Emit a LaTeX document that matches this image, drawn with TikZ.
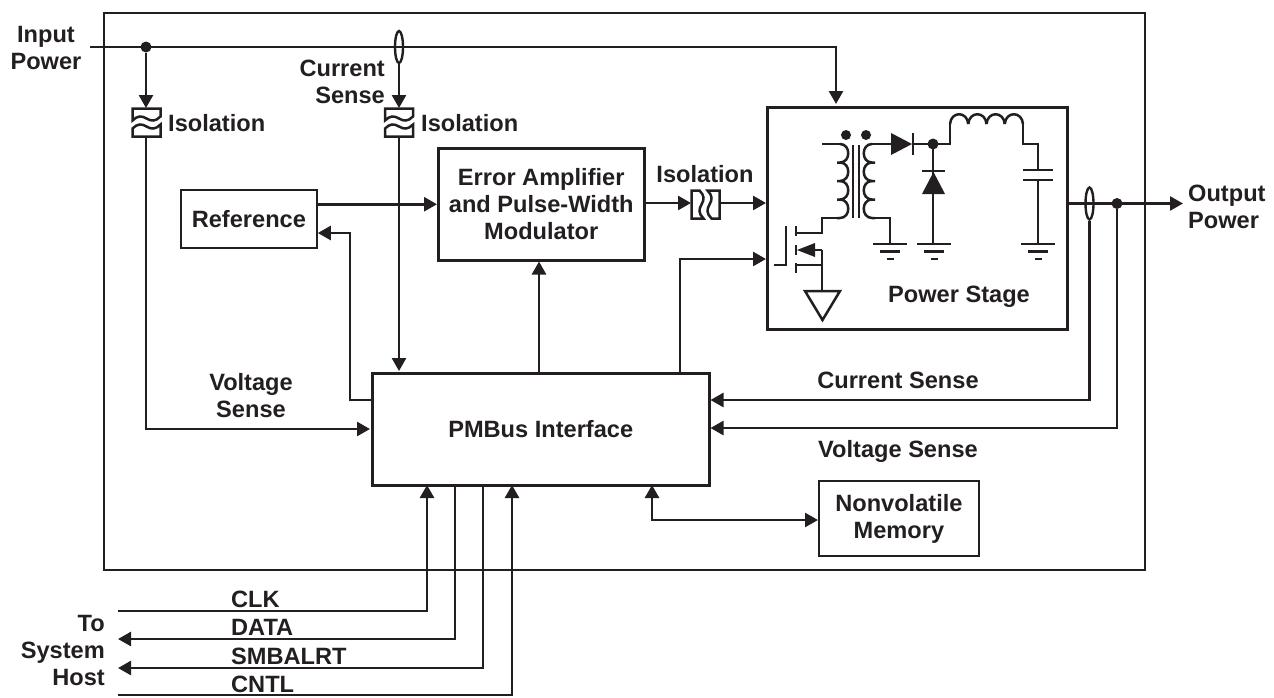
\documentclass[tikz,border=0pt]{standalone}
\usepackage{fontspec}
\setmainfont{Liberation Sans}
\usetikzlibrary{arrows.meta,calc,shapes.geometric}
\definecolor{ink}{HTML}{231F20}
\tikzset{
  wire/.style={draw=ink,line width=2.6pt,line join=miter},
  arr/.style={wire,-{Triangle[length=13pt,width=14pt]}},
  darr/.style={wire,{Triangle[length=13pt,width=14pt]}-{Triangle[length=13pt,width=14pt]}},
  blk/.style={draw=ink,line width=2.5pt,anchor=north west,inner sep=0pt,align=center,text=ink,font=\fontsize{23.6}{27}\bfseries\selectfont},
  lab/.style={text=ink,inner sep=0pt,align=center,font=\fontsize{23.6}{27}\bfseries\selectfont},
  dot/.style={circle,fill=ink,inner sep=0pt,minimum size=11pt},
  thin wire/.style={draw=ink,line width=2.5pt},
  oval/.style={ellipse,draw=ink,line width=2.4pt,inner sep=0pt,minimum width=8pt,minimum height=32pt},
  isosym/.pic={
    \draw[thin wire] (-14,-2) -- (-14,-14) -- (14,-14) -- (14,-6) .. controls (9,-1) and (5,-1) .. (0,-4) .. controls (-5,-7) and (-9,-7) .. cycle;
    \draw[thin wire] (-14,6) .. controls (-9,1) and (-5,1) .. (0,4) .. controls (5,7) and (9,7) .. (14,2) -- (14,14) -- (-14,14) -- cycle;
  },
}
\newcommand{\coilR}[3]{% x, y0, pitch: bumps bulge right
  \foreach \k in {0,1,2,3}{
    \draw[thin wire] ($(#1,#2)+(0,\k*#3)$) .. controls +(11,0) and +(11,0) .. +(0,#3) -- +(-3,#3);
  }}
\newcommand{\coilL}[3]{% x, y0, pitch: bumps bulge left
  \foreach \k in {0,1,2,3}{
    \draw[thin wire] ($(#1,#2)+(0,\k*#3)$) .. controls +(-11,0) and +(-11,0) .. +(0,#3) -- +(3,#3);
  }}
\newcommand{\gnd}[2]{%
  \draw[thin wire] (#1-17,#2) -- (#1+17,#2);
  \draw[thin wire] (#1-10,#2+7.5) -- (#1+10,#2+7.5);
  \draw[thin wire] (#1-3.5,#2+15) -- (#1+3.5,#2+15);}
\begin{document}
\begin{tikzpicture}[x=1pt,y=-1pt]
\useasboundingbox (0,0) rectangle (1274,697);
% blocks
\draw[draw=ink,line width=2.6pt] (104,13) rectangle (1145,570);
\node[blk,line width=1.8pt,minimum width=136pt,minimum height=58pt] (ref) at (180,189) {Reference};
\node[blk,minimum width=206pt,minimum height=112pt] (ea) at (437,147) {Error Amplifier\\and Pulse-Width\\Modulator};
\node[blk,minimum width=300pt,minimum height=222pt] (ps) at (766,106) {};
\node[blk,minimum width=337pt,minimum height=112pt] (pm) at (371,372) {PMBus Interface};
\node[blk,line width=1.8pt,minimum width=160pt,minimum height=75pt] (nv) at (818,480) {Nonvolatile\\Memory};
% free ends and junctions
\coordinate (inp) at (90,47);
\coordinate (outp) at (1183,203.5);
\node[dot] (j1) at (146,47) {};
\node[dot] (j2) at (1117,203.5) {};
\node[oval] (cs1) at (399,47) {};
\node[oval] (cs2) at (1089.5,203.5) {};
\coordinate (iso1) at (146.5,122.5);
\coordinate (iso2) at (399,122.5);
\coordinate (iso3) at (705.5,204.5);
\pic at (iso1) {isosym};
\pic at (iso2) {isosym};
\pic[rotate=90] at (iso3) {isosym};
% input
\draw[arr] (inp) -- (836,47) -- (836,104);
\draw[arr] (j1) -- (146,108);
\draw[arr] (146,136) -- (146,429) -- (370,429);
\draw[arr] (cs1.south) -- (399,108);
\draw[arr] (399,136) -- (399,371);
% internal
\draw[arr] (ref.east |- ea.west) -- (ea.west);
\draw[arr] (pm.west |- 0,400) -- (350,400) -- (350,233) -- (ref.east |- 0,233);
\draw[arr] (539,372) -- (539,0 |- ea.south);
\draw[arr] (ea.east |- 0,203) -- (691,203);
\draw[arr] (719,203) -- (766,203);
\draw[arr] (680,372) -- (680,259) -- (766,259);
\draw[arr] (ps.east |- outp) -- (outp);
\draw[arr] (cs2.south) -- (1089.5,400) -- (pm.east |- 0,400);
\draw[arr] (j2) -- (1117,428) -- (pm.east |- 0,428);
\draw[darr] (652,485) -- (652,520) -- (nv.west |- 0,520);
% host
\draw[arr] (118,611) -- (427,611) -- (427,485);
\draw[arr] (455,485) -- (455,639) -- (118,639);
\draw[arr] (483,484) -- (483,668) -- (118,668);
\draw[arr] (118,695) -- (512,695) -- (512,485);
% labels
\node[lab] (l1) at (46,47.5) {Input\\Power};
\node[lab,align=right,anchor=east] (l2) at (385,81.5) {Current\\Sense};
\node[lab,anchor=base west] (l3) at (168,131) {Isolation};
\node[lab,anchor=base west] (l4) at (421,131) {Isolation};
\node[lab,anchor=base] (l5) at (705,182) {Isolation};
\node[lab] (l6) at (251,396) {Voltage\\Sense};
\node[lab,anchor=base] (l7) at (898,388) {Current Sense};
\node[lab,anchor=base] (l8) at (898,457) {Voltage Sense};
\node[lab,align=left,anchor=west] (l9) at (1188,207) {Output\\Power};
\node[lab,anchor=base] (l10) at (959,302) {Power Stage};
\node[lab,anchor=base west] (l11) at (231,607) {CLK};
\node[lab,anchor=base west] (l12) at (231,635) {DATA};
\node[lab,anchor=base west] (l13) at (231,664) {SMBALRT};
\node[lab,anchor=base west] (l14) at (231,692) {CNTL};
\node[lab,align=right,anchor=east] (l15) at (105,650) {To\\System\\Host};
% power stage circuit
\node[dot,minimum size=10pt] (d1) at (846,135) {};
\node[dot,minimum size=10pt] (d2) at (866,135) {};
\draw[thin wire] (853,145) -- (853,218) (859,145) -- (859,218);
\draw[thin wire] (822,144) -- (840,144);
\coilR{840}{144}{18.5}
\draw[thin wire] (840,218) -- (822,218) -- (822,233) -- (796,233);
\coilL{872}{144}{18.5}
\draw[thin wire] (872,144) -- (892,144);
\draw[thin wire] (872,218) -- (890,218) -- (890,244);
\gnd{890}{244}
\fill[ink] (891,133) -- (912,144) -- (891,155) -- cycle;
\draw[thin wire] (913,133) -- (913,155);
\draw[thin wire] (912,144) -- (950,144) -- (950,124);
\node[dot] (d3) at (933,144) {};
\foreach \k in {0,1,2,3}{
  \draw[thin wire] ($(950,124)+(18.25*\k,0)$) .. controls +(1,-13) and +(-1,-13) .. +(18.25,0);
}
\draw[thin wire] (1023,124) -- (1023,144) -- (1038,144) -- (1038,170);
\draw[thin wire] (1023,170) -- (1053,170) (1023,180) -- (1053,180);
\draw[thin wire] (1038,180) -- (1038,244);
\gnd{1038}{244}
\draw[thin wire] (933,144) -- (933,244);
\draw[thin wire] (922,171) -- (945,171);
\fill[ink] (933.5,172) -- (945,194) -- (922,194) -- cycle;
\gnd{934}{244}
% mosfet
\draw[thin wire] (774,265) -- (786,265) -- (786,226);
\draw[thin wire] (796,226) -- (796,236) (796,245) -- (796,255) (796,263) -- (796,273);
\draw[thin wire] (822,250) -- (815,250);
\fill[ink] (797,250) -- (815,243) -- (815,257) -- cycle;
\draw[thin wire] (796,265) -- (822,265);
\draw[thin wire] (822,250) -- (822,291);
\draw[thin wire] (805,291) -- (840,291) -- (822.5,320) -- cycle;
\end{tikzpicture}
\end{document}
